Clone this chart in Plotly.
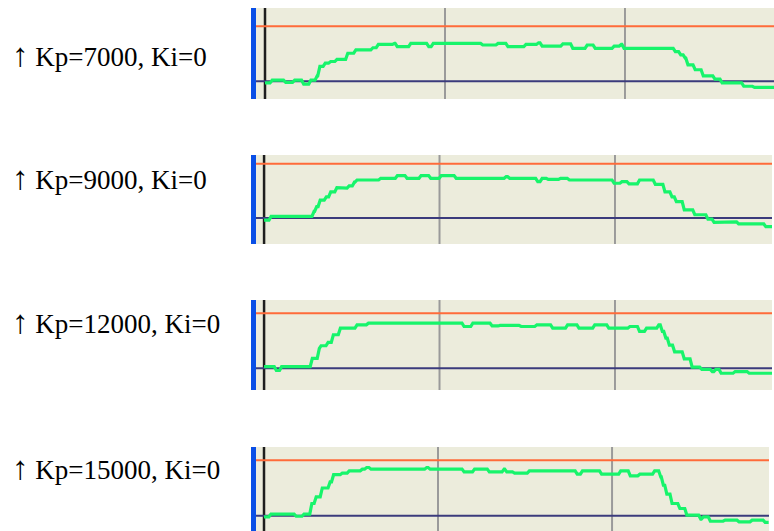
import plotly.graph_objects as go

# ---------------- data (time in grid units, value: 0 = baseline, 100 = setpoint) -------------
label_arrow = "↑"
labels = ["Kp=7000, Ki=0", "Kp=9000, Ki=0", "Kp=12000, Ki=0", "Kp=15000, Ki=0"]

t_kp7000 = [0, 4, 11.5, 16.5, 21.5, 25.5, 29, 30.5, 33.5, 36.5, 40, 46, 50.5, 60, 63, 72, 73.5,
            81, 91, 93.5, 121, 129.5, 135, 145, 152, 154, 165.5, 171, 179, 183.5, 194, 198,
            199.5, 228, 231, 233.5, 235, 239, 243.5, 250, 254, 266, 272, 283]
v_kp7000 = [-3, 2, -2, 2, -5, 2, 10, 27, 33, 36, 40, 51, 57, 61, 67, 69, 63,
            69, 63, 69, 66, 69, 63, 67, 70, 64, 68, 60, 66, 60, 64, 67,
            60, 54, 48, 42, 30, 21, 10, 4, -3, -9, -11, -11]

t_kp9000 = [0, 4, 28.5, 30, 32, 35.5, 38, 41.5, 44, 48.5, 51.5, 53, 66.5, 76, 81.5, 89.5, 95,
            101, 109.5, 138, 140, 156, 158.5, 162, 169, 174, 199.5, 204, 208, 214, 223, 228.5,
            232.5, 235, 239.5, 245.5, 253, 256.5, 262.5, 270.5, 286, 289.5]
v_kp9000 = [-4, 3, 12, 21, 33, 39, 48, 56, 55, 59, 66, 70, 73, 78, 73, 78, 73,
            78, 73, 76, 73, 67, 73, 71, 73, 70, 64, 67, 63, 70, 62, 48,
            39, 30, 15, 6, -2, -8, -7, -11, -16, -16]

t_kp12000 = [0, 7, 10, 27.5, 31.5, 32.5, 36.5, 39.5, 43.5, 53, 59.5, 114, 119, 130, 134.5,
             146.5, 155.5, 164.5, 173, 179.5, 188.5, 196.5, 208.5, 214, 218, 225, 227, 229,
             231, 234, 239.5, 244, 249.5, 255.5, 257.5, 260.5, 268.5, 276.5, 289.5]
v_kp12000 = [3, -4, 3, 18, 36, 41, 47, 61, 73, 79, 82, 76, 82, 77, 78,
             76, 79, 73, 79, 73, 79, 73, 76, 67, 73, 79, 67, 55,
             42, 30, 17, 2, -2, -6, -2, -9, -6, -9, -9]

t_kp15000 = [0, 4, 18.5, 23, 27.5, 30, 33.5, 38, 40, 45, 49, 56.5, 59, 61.5, 93.5, 95.5, 115,
             121, 129.5, 138, 139.5, 144, 152.5, 180, 183, 194, 205, 210.5, 216, 224.5, 228,
             229.5, 231.5, 234.5, 239, 243, 251, 252.5, 256.5, 265, 273, 280.5, 288, 290]
v_kp15000 = [-2, 3, -1, 3, 22, 34, 50, 61, 74, 77, 81, 84, 87, 84, 87, 84, 79,
             84, 79, 84, 79, 77, 81, 75, 81, 75, 81, 72, 75, 81, 70,
             55, 39, 22, 13, 1, -6, -2, -10, -8, -11, -8, -12, -12]

setpoint = 100
baseline = 0
grid_times = [100, 200]

series = [(t_kp7000, v_kp7000), (t_kp9000, v_kp9000),
          (t_kp12000, v_kp12000), (t_kp15000, v_kp15000)]

# ---------------- layout geometry (pixels) ----------------
W, H = 774, 531
panels = [
    dict(left=256, right=774, top=8, bottom=99, xr=(-5.0, 282.8), yr=(-32.2, 133.3), label_y=55),
    dict(left=256, right=772, top=155, bottom=244, xr=(-4.6, 289.5), yr=(-47.9, 116.0), label_y=178),
    dict(left=256, right=772, top=300, bottom=390, xr=(-4.6, 289.5), yr=(-39.5, 124.2), label_y=322),
    dict(left=256, right=769, top=447, bottom=531, xr=(-4.6, 290.2), yr=(-27.6, 124.0), label_y=468),
]

BG = "#ECECDC"
GREEN = "#17F46B"
ORANGE = "#FF6B3A"
NAVY = "#3B3B7C"
GRID = "#9A9A9A"
BLUE = "#0A4FE6"
RISE = 1.2  # width of each sample transition (drawing style of the recorder trace)


def sampled_path(t, v, rise):
    """Hold each sampled value until shortly before the next sample, then move to it."""
    xs, ys = [], []
    for k in range(len(t)):
        xs.append(t[k])
        ys.append(v[k])
        if k + 1 < len(t):
            xs.append(max(t[k], t[k + 1] - rise))
            ys.append(v[k])
    return xs, ys


fig = go.Figure()
layout = dict(width=W, height=H, margin=dict(l=0, r=0, t=0, b=0),
              paper_bgcolor="white", plot_bgcolor=BG, showlegend=False)
shapes = []
annotations = []

for i, (p, (t, v), lab) in enumerate(zip(panels, series, labels)):
    n = "" if i == 0 else str(i + 1)
    xa, ya = "x" + n, "y" + n
    layout["xaxis" + n] = dict(domain=[p["left"] / W, p["right"] / W], range=list(p["xr"]),
                               showgrid=False, zeroline=False, showticklabels=False,
                               showline=False, ticks="", fixedrange=True, anchor=ya)
    layout["yaxis" + n] = dict(domain=[1 - p["bottom"] / H, 1 - p["top"] / H], range=list(p["yr"]),
                               showgrid=False, zeroline=False, showticklabels=False,
                               showline=False, ticks="", fixedrange=True, anchor=xa)
    for g in grid_times:
        shapes.append(dict(type="line", xref=xa, yref=ya + " domain", x0=g, x1=g, y0=0, y1=1,
                           line=dict(color=GRID, width=2), layer="below"))
    shapes.append(dict(type="line", xref=xa, yref=ya + " domain", x0=0, x1=0, y0=0, y1=1,
                       line=dict(color="#1E1E1E", width=2.5), layer="below"))
    shapes.append(dict(type="line", xref=xa + " domain", yref=ya, x0=0, x1=1, y0=setpoint, y1=setpoint,
                       line=dict(color=ORANGE, width=2), layer="below"))
    shapes.append(dict(type="line", xref=xa + " domain", yref=ya, x0=0, x1=1, y0=baseline, y1=baseline,
                       line=dict(color=NAVY, width=2), layer="below"))
    shapes.append(dict(type="rect", xref="paper", yref="paper", x0=251 / W, x1=256 / W,
                       y0=1 - p["bottom"] / H, y1=1 - p["top"] / H,
                       line=dict(width=0), fillcolor=BLUE))
    xs, ys = sampled_path(t, v, RISE)
    fig.add_trace(go.Scatter(x=xs, y=ys, mode="lines", line=dict(color=GREEN, width=3.2),
                             xaxis=xa, yaxis=ya, hoverinfo="skip"))
    annotations.append(dict(text=f"<span style='font-size:33px'>{label_arrow}</span> {lab}",
                            xref="paper", yref="paper", x=10 / W, y=1 - p["label_y"] / H,
                            xanchor="left", yanchor="middle", showarrow=False,
                            font=dict(family="Liberation Serif", size=27, color="black")))

layout["shapes"] = shapes
layout["annotations"] = annotations
fig.update_layout(**layout)
fig.write_html("out.html", config={"displayModeBar": False},
               post_script="document.body.style.margin='0px';document.body.style.overflow='hidden';")
